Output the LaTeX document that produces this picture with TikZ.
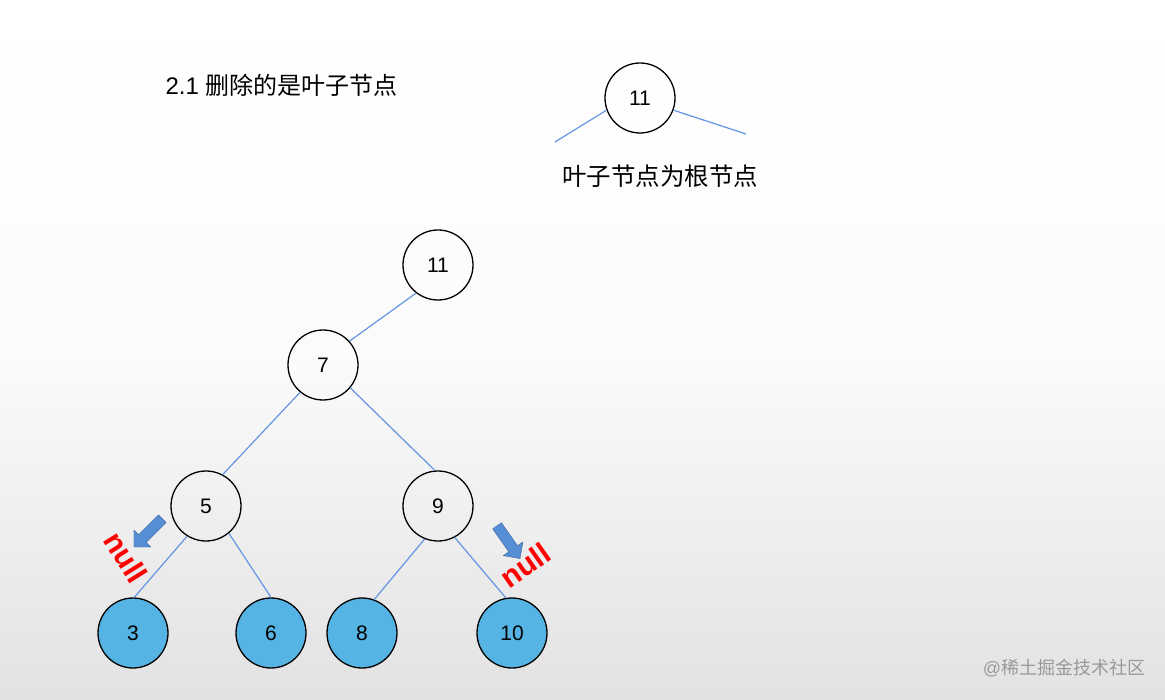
\documentclass[tikz,border=0pt]{standalone}
\usepackage{fontspec}
\setmainfont{Liberation Sans}
\newfontfamily\cjk{Noto Sans CJK SC}
\usetikzlibrary{shapes.arrows}
\tikzset{
 nd/.style={circle,draw,line width=1.3pt,minimum size=70pt,inner sep=0pt,font=\fontsize{21}{21}\selectfont},
 leaf/.style={nd,fill={rgb,255:red,86;green,180;blue,228}},
 edge/.style={draw={rgb,255:red,100;green,149;blue,226},line width=1.2pt},
 bigarrow/.style={single arrow,draw={rgb,255:red,60;green,100;blue,160},fill={rgb,255:red,85;green,142;blue,213},minimum height=40pt,minimum width=24pt,single arrow head extend=4pt,inner sep=3pt},
 nulltxt/.style={text=red,font=\fontsize{30}{30}\selectfont\bfseries}
}
\begin{document}
\begin{tikzpicture}[x=1pt,y=-1pt]
\shade[top color=white,bottom color={rgb,255:red,226;green,226;blue,226},middle color=white!97!gray] (0,0) rectangle (1165,700);
\useasboundingbox (0,0) rectangle (1165,700);
\node[anchor=west,font=\fontsize{24}{24}\selectfont] (title) at (162,85) {2.1 {\cjk 删除的是叶子节点}};
\node[nd] (r) at (640,98) {11};
\coordinate (rl) at (555,142);
\coordinate (rr) at (746,134);
\draw[edge] (r.-160) -- (rl);
\draw[edge] (r.-20) -- (rr);
\node[font=\fontsize{24.5}{24}\selectfont\cjk] (cap) at (660,176) {叶子节点为根节点};
\node[nd] (a11) at (438,265) {11};
\node[nd] (a7) at (323,365) {7};
\node[nd] (a5) at (206,506) {5};
\node[nd] (a9) at (438,506) {9};
\node[leaf] (a3) at (133,633) {3};
\node[leaf] (a6) at (271,633) {6};
\node[leaf] (a8) at (362,633) {8};
\node[leaf] (a10) at (512,633) {10};
\draw[edge] (a11.-128) -- (a7.42);
\draw[edge] (a7.-130) -- (a5.62);
\draw[edge] (a7.-40) -- (a9.95);
\draw[edge] (a5.-122) -- (a3.88);
\draw[edge] (a5.-50) -- (a6.90);
\draw[edge] (a9.-112) -- (a8.70);
\draw[edge] (a9.-62) -- (a10.100);
\node[bigarrow,rotate=-135] (ar1) at (150,531) {};
\node[bigarrow,rotate=-55] (ar2) at (507,540) {};
\node[nulltxt,rotate=-58] (n1) at (126,557) {null};
\node[nulltxt,rotate=35] (n2) at (525,565) {null};
\node[text=gray!80,font=\fontsize{18}{18}\selectfont] (wm) at (1064,668) {@{\cjk 稀土掘金技术社区}};
\end{tikzpicture}
\end{document}
